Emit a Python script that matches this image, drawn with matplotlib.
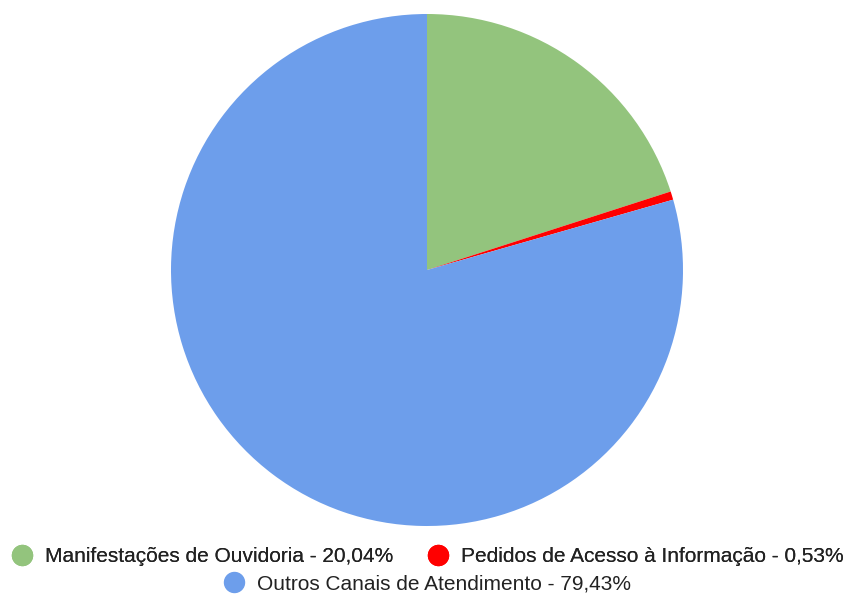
import matplotlib
matplotlib.use("Agg")
import matplotlib.pyplot as plt
from matplotlib.lines import Line2D

labels = ["Manifestações de Ouvidoria", "Pedidos de Acesso à Informação", "Outros Canais de Atendimento"]
values = [20.04, 0.53, 79.43]
colors = ["#93c47d", "#ff0000", "#6d9eeb"]

plt.rcParams['font.family'] = ['Liberation Sans', 'DejaVu Sans']

W, H = 847, 595
fig = plt.figure(figsize=(W / 100, H / 100), dpi=100)
cx, cy, r = 427, 270, 256
ax = fig.add_axes([(cx - r) / W, (H - cy - r) / H, 2 * r / W, 2 * r / H])
ax.pie(values, colors=colors, startangle=90, counterclock=False,
       wedgeprops=dict(linewidth=0))
ax.set_xlim(-1, 1)
ax.set_ylim(-1, 1)
ax.set_aspect('equal')
ax.axis('off')

def handle(c):
    return Line2D([], [], marker='o', linestyle='none', markersize=14.4,
                  markerfacecolor=c, markeredgecolor=c)

texts = [f"{l} - {v:.2f}%".replace('.', ',') for l, v in zip(labels, values)]
fs = 15
common = dict(loc='center', frameon=False, fontsize=fs, handletextpad=0.62,
              handlelength=1.0, borderaxespad=0, borderpad=0,
              labelcolor='#222222')

leg1 = fig.legend([handle(colors[0]), handle(colors[1])], texts[:2], ncol=2,
                  bbox_to_anchor=(427.5 / W, 1 - 557 / H), columnspacing=1.65, **common)
fig.add_artist(leg1)
leg2 = fig.legend([handle(colors[2])], texts[2:], ncol=1,
                  bbox_to_anchor=(427 / W, 1 - 584 / H), **common)

fig.savefig("out.png", dpi=100)
